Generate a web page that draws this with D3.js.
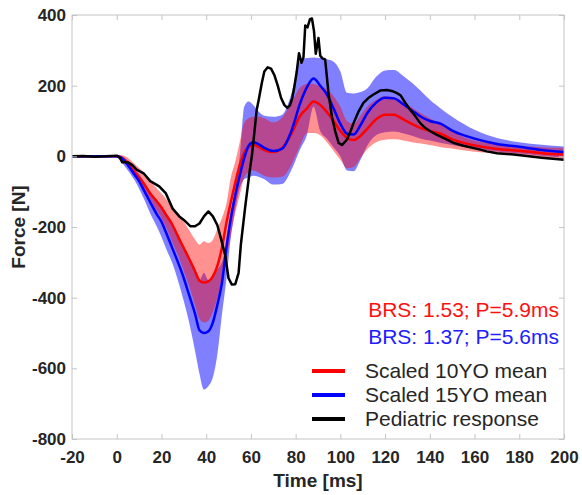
<!DOCTYPE html>
<html>
<head>
<meta charset="utf-8">
<script src="https://cdn.jsdelivr.net/npm/d3@7"></script>
<style>
  body { margin: 0; background: #fff; }
  svg text { font-family: "Liberation Sans", Arial, sans-serif; }
</style>
</head>
<body>
<svg id="chart" width="582" height="495"></svg>
<script>
// shared time base for the two scaled corridors (ms)
const time = [-20, -10, 0, 2, 5, 8, 10, 12, 15, 18, 20, 22, 25, 28, 30, 32, 35, 37, 39, 41,
    43, 45, 47, 49, 51, 53, 55, 57, 59, 61, 63, 66, 70, 74, 78, 82, 85, 88, 91, 94,
    97, 100, 103, 106, 109, 112, 116, 120, 124, 128, 132, 136, 140, 145, 150, 155, 160, 170, 180, 190, 200];

// Scaled 10YO (N)
const mean10 = [0, 0, 0, -3, -20, -45, -60, -76, -105, -128, -145, -165, -195, -235, -260, -285, -325, -352, -357, -354,
    -340, -310, -260, -190, -130, -75, -25, 10, 27, 33, 28, 18, 12, 24, 62, 115, 135, 155, 145, 125,
    100, 72, 52, 46, 58, 78, 105, 118, 118, 105, 92, 80, 72, 64, 48, 38, 31, 21, 16, 9, 5];
const upper10 = [2, 2, 3, 3, -5, -22, -33, -45, -70, -92, -105, -120, -145, -170, -185, -205, -235, -250, -240, -245,
    -236, -205, -175, -135, -60, -15, 40, 95, 108, 112, 113, 108, 96, 110, 150, 195, 205, 205, 198, 190,
    170, 140, 100, 92, 115, 140, 160, 170, 168, 155, 138, 122, 108, 90, 70, 55, 45, 35, 29, 26, 24];
const lower10 = [-2, -2, -2, -8, -28, -50, -66, -88, -122, -155, -175, -200, -245, -290, -325, -360, -420, -460, -470, -465,
    -440, -400, -345, -290, -225, -160, -110, -60, -45, -40, -45, -55, -60, -58, -25, 30, 65, 66, 60, 40,
    15, -10, -34, -30, -5, 20, 40, 47, 48, 45, 40, 36, 32, 26, 22, 17, 13, 8, 2, -3, -8];

// Scaled 15YO (N)
const mean15 = [0, 0, 0, -4, -25, -52, -70, -94, -130, -165, -185, -215, -262, -310, -345, -385, -445, -492, -500, -495,
    -470, -420, -360, -260, -175, -110, -55, -5, 30, 40, 36, 24, 15, 22, 70, 150, 195, 220, 200, 175,
    135, 92, 64, 62, 88, 122, 152, 166, 164, 148, 130, 112, 100, 92, 73, 60, 50, 35, 27, 18, 12];
const upper15 = [3, 3, 4, 2, -12, -35, -50, -70, -100, -125, -140, -160, -190, -230, -255, -280, -320, -350, -330, -350,
    -340, -320, -300, -250, -165, -90, 0, 140, 155, 145, 130, 115, 112, 118, 175, 270, 278, 280, 278, 275,
    268, 240, 180, 178, 182, 192, 225, 243, 244, 228, 208, 185, 160, 135, 112, 92, 75, 52, 40, 33, 28];
const lower15 = [-3, -3, -3, -15, -40, -68, -92, -118, -162, -200, -228, -260, -305, -365, -410, -460, -550, -615, -660, -650,
    -625, -560, -450, -350, -230, -150, -90, -65, -60, -55, -57, -65, -80, -78, -40, 20, 60, 140, 72, 50,
    25, 0, -40, -42, -10, 30, 60, 68, 70, 65, 58, 50, 45, 38, 32, 27, 22, 14, 8, 2, -3];

// Pediatric response
const respTime = [-20, -15, -10, -5, 0, 1.5, 2.5, 5, 7, 9, 12, 15, 19, 22, 25, 28, 30, 33, 35, 37,
    39, 41, 43, 45, 46.5, 48.5, 50, 51.5, 53, 54.5, 55.5, 56.5, 57.5, 58.5, 59.5, 60.5, 61.5, 62.6, 63.5, 64.9,
    66, 67.5, 69, 70.5, 72, 73.5, 75, 76.3, 77.5, 78.5, 79.5, 80.5, 81.5, 82.6, 83.5, 84.3, 85.3, 86.4, 87.3, 88.2,
    89, 90.2, 91, 92, 93.2, 94.7, 96.2, 97.7, 99.2, 100.7, 102.9, 104.5, 105.9, 108, 110.3, 112.5, 114.8, 117.8, 120.8, 123,
    125.3, 127, 129, 131.2, 133, 135.7, 138, 140.2, 143.2, 147.7, 150.6, 155, 162.6, 165.5, 170, 177.5, 180.4, 190, 200];
const respForce = [0, 1, -1, 0, 2, -5, -17, -17, -25, -38, -48, -70, -85, -105, -148, -170, -180, -198, -198, -190,
    -170, -156, -170, -195, -230, -280, -345, -363, -362, -330, -250, -195, -140, -90, -40, 5, 65, 132, 160, 208,
    240, 252, 248, 230, 200, 165, 145, 137, 145, 165, 200, 240, 292, 265, 280, 370, 365, 388, 390, 355,
    290, 335, 285, 277, 274, 179, 113, 71, 38, 32, 47, 70, 94, 125, 151, 165, 175, 186, 188, 185,
    179, 172, 152, 132, 118, 94, 80, 71, 61, 47, 38, 30, 19, 14, 9, 5, 3, -4, -10];

const xTicks = [-20, 0, 20, 40, 60, 80, 100, 120, 140, 160, 180, 200];
const yTicks = [-800, -600, -400, -200, 0, 200, 400];

const legendLabels = ["Scaled 10YO mean", "Scaled 15YO mean", "Pediatric response"];
const legendColors = ["#ff0000", "#0000ff", "#000000"];
const brsLabels = ["BRS: 1.53; P=5.9ms", "BRS: 1.37; P=5.6ms"];
const brsColors = ["#ff1010", "#2020ff"];

const svg = d3.select("#chart");
const L = 72, R = 564, T = 15, B = 439;

const x = d3.scaleLinear().domain([-20, 200]).range([L, R]);
const y = d3.scaleLinear().domain([-800, 400]).range([B, T]);

svg.append("defs").append("clipPath").attr("id", "plotclip")
    .append("rect").attr("x", L).attr("y", T).attr("width", R - L).attr("height", B - T);

const plot = svg.append("g").attr("clip-path", "url(#plotclip)");

// corridors: blue first, red over it
const band = (lo, hi) => d3.area()
    .curve(d3.curveMonotoneX)
    .x((d, i) => x(time[i]))
    .y0((d, i) => y(lo[i]))
    .y1((d, i) => y(hi[i]));

plot.append("path")
    .attr("d", band(lower15, upper15)(time))
    .attr("fill", "#0000ff")
    .attr("fill-opacity", 0.5);

plot.append("path")
    .attr("d", band(lower10, upper10)(time))
    .attr("fill", "#ff0000")
    .attr("fill-opacity", 0.43);

const meanLine = vals => d3.line()
    .curve(d3.curveMonotoneX)
    .x((d, i) => x(time[i]))
    .y((d, i) => y(vals[i]));

plot.append("path")
    .attr("d", meanLine(mean10)(time))
    .attr("fill", "none")
    .attr("stroke", "#ff0000")
    .attr("stroke-width", 2.5);

plot.append("path")
    .attr("d", meanLine(mean15)(time))
    .attr("fill", "none")
    .attr("stroke", "#0000ff")
    .attr("stroke-width", 2.5);

plot.append("path")
    .attr("d", d3.line()
        .x((d, i) => x(respTime[i]))
        .y((d, i) => y(respForce[i]))(respTime))
    .attr("fill", "none")
    .attr("stroke", "#000")
    .attr("stroke-width", 2.5)
    .attr("stroke-linejoin", "round");

// axes (ticks point inward), plain hyphen for negatives
const axisGrey = "#c4c4c4";
const fmt = d => String(d);
function styleAxis(g) {
    g.select(".domain").remove();
    g.selectAll(".tick line").attr("stroke", axisGrey);
    g.selectAll(".tick text")
        .attr("fill", "#262626")
        .style("font-size", "17px")
        .style("font-weight", "bold");
}

svg.append("g").attr("transform", `translate(0,${B})`)
    .call(d3.axisBottom(x).tickValues(xTicks).tickFormat(fmt).tickSize(-5).tickPadding(12))
    .call(styleAxis);
svg.append("g").attr("transform", `translate(0,${T})`)
    .call(d3.axisTop(x).tickValues(xTicks).tickSize(-5).tickFormat(""))
    .call(styleAxis);
svg.append("g").attr("transform", `translate(${L},0)`)
    .call(d3.axisLeft(y).tickValues(yTicks).tickFormat(fmt).tickSize(-5).tickPadding(6))
    .call(styleAxis);
svg.append("g").attr("transform", `translate(${R},0)`)
    .call(d3.axisRight(y).tickValues(yTicks).tickSize(-5).tickFormat(""))
    .call(styleAxis);

svg.append("rect")
    .attr("x", L).attr("y", T).attr("width", R - L).attr("height", B - T)
    .attr("fill", "none").attr("stroke", axisGrey).attr("stroke-width", 1);

// axis titles
svg.append("text")
    .attr("x", (L + R) / 2).attr("y", 487)
    .attr("text-anchor", "middle")
    .attr("fill", "#262626")
    .style("font-size", "19px").style("font-weight", "bold")
    .text("Time [ms]");

svg.append("text")
    .attr("transform", `translate(25,${(T + B) / 2}) rotate(-90)`)
    .attr("text-anchor", "middle")
    .attr("fill", "#262626")
    .style("font-size", "19px").style("font-weight", "bold")
    .text("Force [N]");

// BRS annotations
svg.selectAll("text.brs")
    .data(brsLabels)
    .enter().append("text")
    .attr("class", "brs")
    .attr("x", 559)
    .attr("y", (d, i) => 317 + i * 27)
    .attr("text-anchor", "end")
    .attr("fill", (d, i) => brsColors[i])
    .style("font-size", "21px")
    .text(d => d);

// legend
const legend = svg.append("g");
legendLabels.forEach((lab, i) => {
    const ly = 371 + i * 24;
    legend.append("line")
        .attr("x1", 312).attr("x2", 345)
        .attr("y1", ly).attr("y2", ly)
        .attr("stroke", legendColors[i])
        .attr("stroke-width", 4);
    legend.append("text")
        .attr("x", 365).attr("y", ly + 7)
        .attr("fill", "#262626")
        .style("font-size", "21px")
        .text(lab);
});
</script>
</body>
</html>
